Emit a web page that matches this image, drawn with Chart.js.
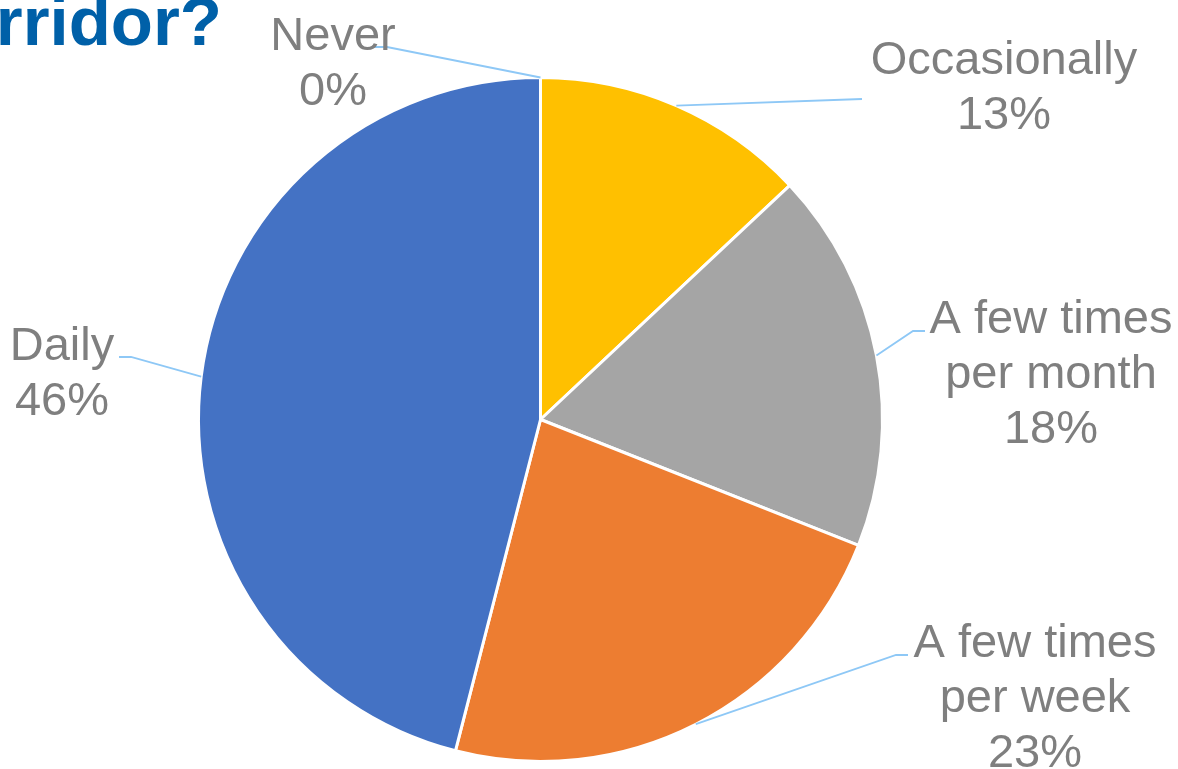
<!DOCTYPE html>
<html>
<head>
<meta charset="utf-8">
<script src="https://cdn.jsdelivr.net/npm/chart.js@4"></script>
<style>
  html, body { margin: 0; padding: 0; background: #fff; }
  #wrap { position: relative; width: 1178px; height: 769px; }
</style>
</head>
<body>
<div id="wrap"><canvas id="pieChart"></canvas></div>
<script>
// chart data
const categories = ["Never", "Occasionally", "A few times per month", "A few times per week", "Daily"]
const labelLines = [["Never"], ["Occasionally"], ["A few times", "per month"], ["A few times", "per week"], ["Daily"]]
const percentages = [0, 13, 18, 23, 46]
const sliceColors = ["#5B9BD5", "#FFC000", "#A5A5A5", "#ED7D31", "#4472C4"]

// label placement (text center x, first baseline y, elbow point, end of horizontal tick)
const labelLayout = [
  { x: 333, y: 50, elbow: [387, 47], tick: [373, 47] },
  { x: 1004, y: 74, elbow: [862, 99], tick: null },
  { x: 1051, y: 333, elbow: [913, 331], tick: [925, 331] },
  { x: 1035, y: 657, elbow: [896, 655], tick: [908, 655] },
  { x: 62, y: 360, elbow: [131, 357], tick: [119, 357] },
]

const outsideLabels = {
  id: "outsideLabels",
  afterDraw(chart) {
    const ctx = chart.ctx
    const meta = chart.getDatasetMeta(0)
    ctx.save()

    // title fragment (cut off at the left edge like the slide)
    ctx.font = "bold 69px 'Liberation Sans', Arial, sans-serif"
    ctx.fillStyle = "#0060A8"
    ctx.textAlign = "right"
    ctx.textBaseline = "alphabetic"
    ctx.fillText("corridor?", 222, 45)

    meta.data.forEach((arc, i) => {
      const lay = labelLayout[i]
      const mid = (arc.startAngle + arc.endAngle) / 2
      const px = arc.x + Math.cos(mid) * arc.outerRadius
      const py = arc.y + Math.sin(mid) * arc.outerRadius

      // leader line
      ctx.strokeStyle = "#8EC8F6"
      ctx.lineWidth = 1.8
      ctx.beginPath()
      ctx.moveTo(px, py)
      ctx.lineTo(lay.elbow[0], lay.elbow[1])
      if (lay.tick) ctx.lineTo(lay.tick[0], lay.tick[1])
      ctx.stroke()

      // label text
      ctx.font = "47px 'Liberation Sans', Arial, sans-serif"
      ctx.fillStyle = "#7F7F7F"
      ctx.textAlign = "center"
      const lines = labelLines[i].concat([percentages[i] + "%"])
      lines.forEach((t, j) => ctx.fillText(t, lay.x, lay.y + j * 55))
    })
    ctx.restore()
  },
}

document.addEventListener("DOMContentLoaded", () => {
  const ctx = document.getElementById("pieChart").getContext("2d")

  new Chart(ctx, {
    type: "pie",
    data: {
      labels: categories,
      datasets: [
        {
          data: percentages,
          backgroundColor: sliceColors,
          borderColor: "#fff",
          borderWidth: 3,
        },
      ],
    },
    options: {
      responsive: true,
      maintainAspectRatio: false,
      animation: false,
      layout: {
        padding: { left: 197, right: 294, top: 76, bottom: 6 },
      },
      plugins: {
        legend: { display: false },
        tooltip: { enabled: false },
      },
    },
    plugins: [outsideLabels],
  })
})
</script>
</body>
</html>
